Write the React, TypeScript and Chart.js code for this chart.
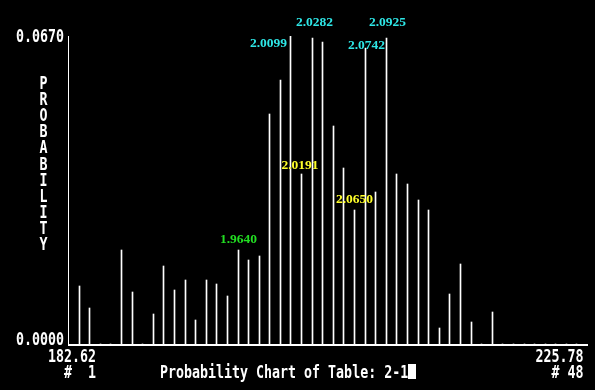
import React, { useEffect, useRef } from "react";
import { Chart, registerables } from "chart.js";

Chart.register(...registerables);

// ---- data ----
const probabilities = [
  0.0126, 0.0078, 0, 0, 0.0205, 0.0113, 0, 0.0065, 0.017, 0.0118,
  0.0139, 0.0052, 0.0139, 0.0131, 0.0104, 0.0205, 0.0183, 0.0191, 0.05, 0.0574,
  0.067, 0.037, 0.0666, 0.0657, 0.0474, 0.0383, 0.0292, 0.0644, 0.0331, 0.0666,
  0.037, 0.0348, 0.0313, 0.0292, 0.0035, 0.0109, 0.0174, 0.0048, 0, 0.007,
  0, 0, 0, 0, 0, 0, 0, 0,
];
const yTickLabels = ["0.0670", "0.0000"];
const yMaxValue = 0.067;
const xEndLabels = ["182.62", "225.78"];
const xEndNumbers = ["#  1", "# 48"];
const chartTitle = "Probability Chart of Table: 2-1";
const yAxisTitle = "PROBABILITY";
const markedIndex = [15, 20, 21, 22, 26, 27, 29];
const markedText = ["1.9640", "2.0099", "2.0191", "2.0282", "2.0650", "2.0742", "2.0925"];

// ---- styles / placement ----
const CYAN = "#2ee6e6";
const YELLOW = "#ffff2a";
const GREEN = "#22dd22";
const MARK_STYLE = [
  { color: GREEN, dx: 0, dy: -7, align: "center" },
  { color: CYAN, dx: -3.5, dy: 11, align: "right" },
  { color: YELLOW, dx: -1.5, dy: -5, align: "center" },
  { color: CYAN, dx: 2, dy: -12, align: "center" },
  { color: YELLOW, dx: 0, dy: -7, align: "center" },
  { color: CYAN, dx: 1, dy: 1, align: "center" },
  { color: CYAN, dx: 1, dy: -12, align: "center" },
];
const MONO = 'bold 13.3px "DejaVu Sans Mono"';
const SY = 1.36;

function monoText(ctx: CanvasRenderingContext2D, text: string, x: number, baseY: number, align: CanvasTextAlign) {
  ctx.save();
  ctx.translate(x, baseY);
  ctx.scale(1, SY);
  ctx.font = MONO;
  ctx.textAlign = align;
  ctx.textBaseline = "alphabetic";
  ctx.fillText(text, 0, 0);
  ctx.restore();
}

const retroPlugin = {
  id: "retro",
  beforeDraw(chart: any) {
    const ctx = chart.ctx;
    ctx.save();
    ctx.fillStyle = "#000";
    ctx.fillRect(0, 0, chart.width, chart.height);
    ctx.restore();
  },
  beforeDatasetsDraw(chart: any) {
    const meta = chart.getDatasetMeta(0);
    meta.data.forEach((el: any) => {
      el.x = Math.floor(el.x) + 0.5;
      el.y = Math.round(el.y);
    });
  },
  afterDatasetsDraw(chart: any) {
    const ctx: CanvasRenderingContext2D = chart.ctx;
    const xs = chart.scales.x;
    const ys = chart.scales.y;
    const y0 = Math.round(ys.getPixelForValue(0));
    const yTop = Math.round(ys.getPixelForValue(yMaxValue));
    ctx.save();
    ctx.fillStyle = "#fff";
    // axes
    ctx.fillRect(Math.round(xs.left), yTop, 1, y0 - yTop);
    ctx.fillRect(Math.round(xs.left), y0, Math.round(xs.right - xs.left) + 1, 2);

    // white mono texts
    monoText(ctx, yTickLabels[0], 64, yTop + 6, "right");
    monoText(ctx, yTickLabels[1], 64, y0 + 1, "right");
    monoText(ctx, xEndLabels[0], 96, 362, "right");
    monoText(ctx, xEndNumbers[0], 96, 378, "right");
    monoText(ctx, xEndLabels[1], 583.5, 362, "right");
    monoText(ctx, xEndNumbers[1], 583.5, 378, "right");
    monoText(ctx, chartTitle, 160, 378, "left");
    ctx.fillRect(408, 364, 8, 15);
    const letters = yAxisTitle.split("");
    letters.forEach((ch, i) => {
      monoText(ctx, ch, 43.5, 76 + i * 16.1 + 13, "center");
    });

    // marked labels
    const meta = chart.getDatasetMeta(0);
    ctx.font = 'bold 13.5px "Liberation Serif"';
    ctx.textBaseline = "alphabetic";
    markedIndex.forEach((idx, i) => {
      const el = meta.data[idx];
      const st = MARK_STYLE[i];
      ctx.fillStyle = st.color;
      ctx.textAlign = st.align as CanvasTextAlign;
      ctx.fillText(markedText[i], el.x + st.dx, el.y + st.dy);
    });
    ctx.restore();
  },
};

export default function App() {
  const ref = useRef<HTMLCanvasElement | null>(null);
  useEffect(() => {
    document.body.style.margin = "0";
    document.body.style.background = "#000";
    const canvas = ref.current!;
    const chart = new Chart(canvas, {
      type: "bar",
      data: {
        datasets: [
          {
            data: probabilities.map((v, i) => ({ x: i, y: v })),
            backgroundColor: "#fff",
            borderWidth: 0,
            barThickness: 1,
          } as any,
        ],
      },
      options: {
        animation: false,
        responsive: false,
        devicePixelRatio: 1,
        layout: { padding: { left: 68, top: 36, right: 8, bottom: 46 } },
        plugins: { legend: { display: false }, tooltip: { enabled: false }, title: { display: false } },
        scales: {
          x: { type: "linear", min: -1.053, max: 47.947, display: false, offset: false },
          y: { min: 0, max: yMaxValue, display: false },
        },
      } as any,
      plugins: [retroPlugin],
    });
    return () => chart.destroy();
  }, []);
  return (
    <div style={{ position: "fixed", left: 0, top: 0, width: 595, height: 390, background: "#000" }}>
      <canvas ref={ref} width={595} height={390} style={{ width: 595, height: 390, display: "block" }} />
    </div>
  );
}
